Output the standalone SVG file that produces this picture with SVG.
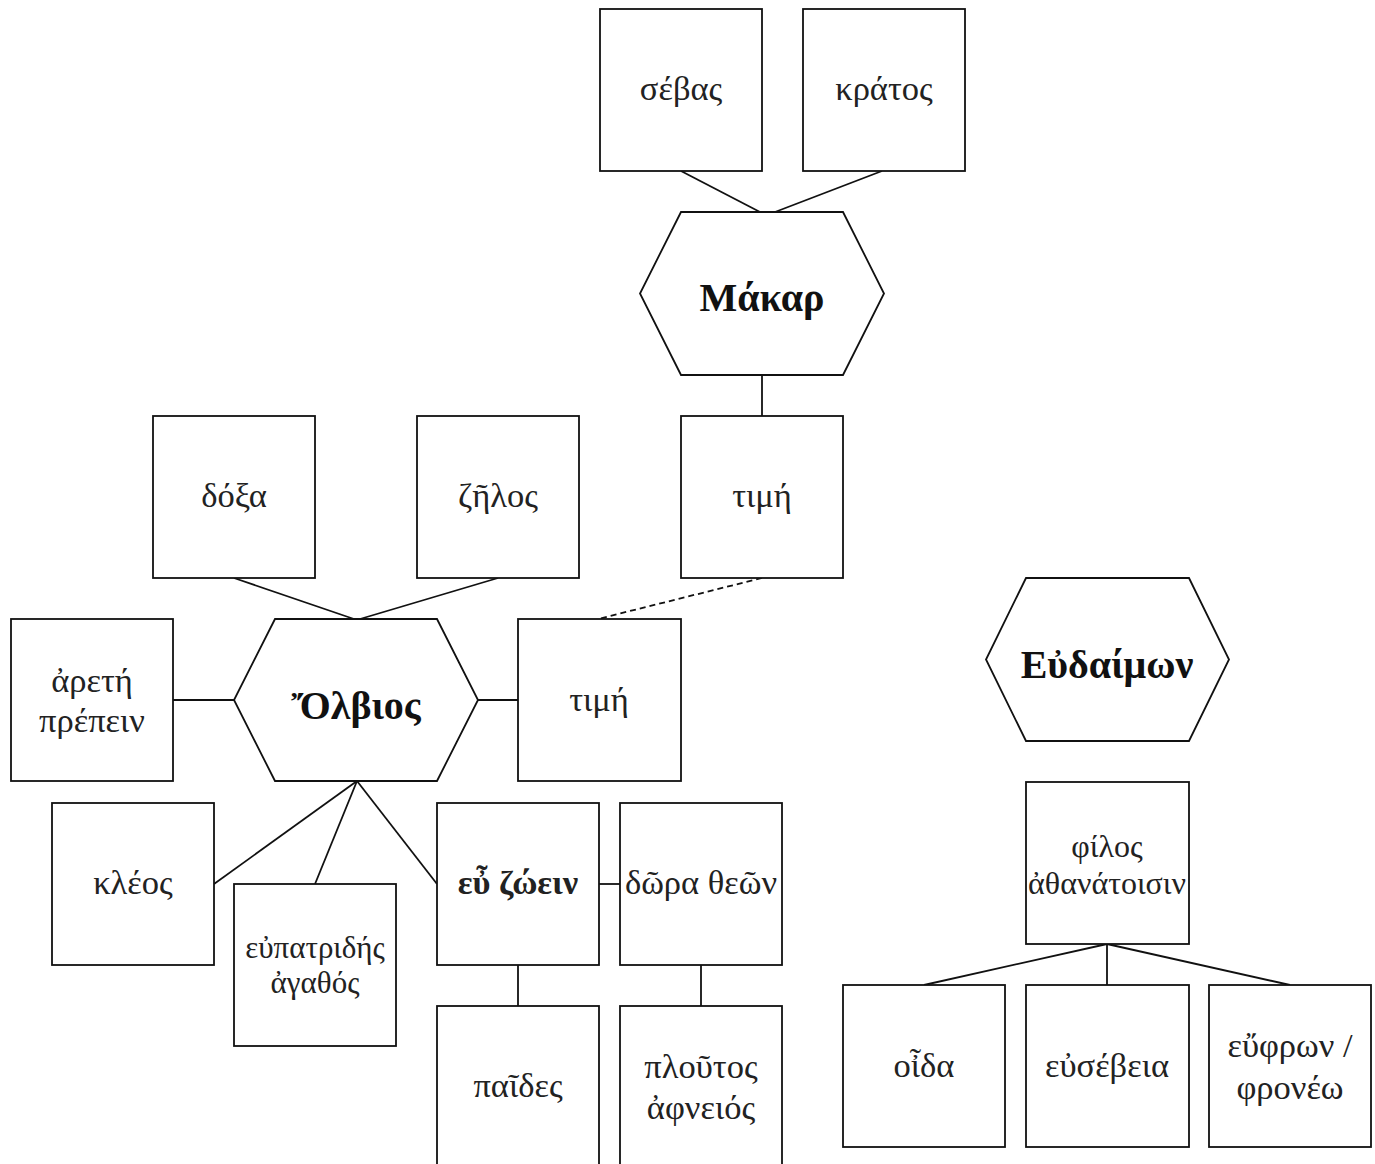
<svg xmlns="http://www.w3.org/2000/svg" width="1375" height="1164" viewBox="0 0 1375 1164">
  <style>
    .box { fill: #fff; stroke: #111; stroke-width: 1.8; }
    .hex { fill: #fff; stroke: #111; stroke-width: 1.8; }
    .edge { fill: none; stroke: #111; stroke-width: 1.8; }
    .dash { stroke-dasharray: 6 4; }
    .t { font-family: "Liberation Serif", "DejaVu Serif", serif; font-size: 34.5px; fill: #222; text-anchor: middle; }
    .s { font-size: 32px; }
    .m { font-size: 31px; }
    .h { font-family: "Liberation Serif", "DejaVu Serif", serif; font-size: 40px; font-weight: bold; fill: #111; text-anchor: middle; }
  </style>
  <rect width="1375" height="1164" fill="#fff"/>

  <g id="connectors">
    <line class="edge" x1="681" y1="171" x2="760" y2="212"/>
    <line class="edge" x1="882" y1="171" x2="775" y2="212"/>
    <line class="edge" x1="762" y1="375" x2="762" y2="416"/>
    <line class="edge dash" x1="762" y1="578" x2="598" y2="619"/>
    <line class="edge" x1="234" y1="578" x2="354" y2="619"/>
    <line class="edge" x1="498" y1="578" x2="360" y2="619"/>
    <line class="edge" x1="173" y1="700" x2="234" y2="700"/>
    <line class="edge" x1="478" y1="700" x2="518" y2="700"/>
    <line class="edge" x1="357" y1="781" x2="214" y2="884"/>
    <line class="edge" x1="357" y1="781" x2="315" y2="884"/>
    <line class="edge" x1="357" y1="781" x2="437" y2="884"/>
    <line class="edge" x1="599" y1="884" x2="620" y2="884"/>
    <line class="edge" x1="518" y1="965" x2="518" y2="1006"/>
    <line class="edge" x1="701" y1="965" x2="701" y2="1006"/>
    <line class="edge" x1="1107" y1="944" x2="924" y2="985"/>
    <line class="edge" x1="1107" y1="944" x2="1107" y2="985"/>
    <line class="edge" x1="1107" y1="944" x2="1290" y2="985"/>
  </g>

  <!-- Μάκαρ cluster -->
  <g id="sevas"><rect class="box" x="600" y="9" width="162" height="162"/><text class="t" x="681" y="100">σέβας</text></g>
  <g id="kratos"><rect class="box" x="803" y="9" width="162" height="162"/><text class="t" x="884" y="100">κράτος</text></g>
  <g id="makar"><polygon class="hex" points="681,212 843,212 884,293.5 843,375 681,375 640,293.5"/><text class="h" x="762" y="311">Μάκαρ</text></g>
  <g id="time-upper"><rect class="box" x="681" y="416" width="162" height="162"/><text class="t" x="762" y="507">τιμή</text></g>

  <!-- Ὄλβιος cluster -->
  <g id="doxa"><rect class="box" x="153" y="416" width="162" height="162"/><text class="t" x="234" y="507">δόξα</text></g>
  <g id="zelos"><rect class="box" x="417" y="416" width="162" height="162"/><text class="t" x="498" y="507">ζῆλος</text></g>
  <g id="arete"><rect class="box" x="11" y="619" width="162" height="162"/><text class="t" x="92" y="692">ἀρετή</text><text class="t" x="92" y="732">πρέπειν</text></g>
  <g id="olbios"><polygon class="hex" points="275,619 437,619 478,700 437,781 275,781 234,700"/><text class="h" x="356" y="719">Ὄλβιος</text></g>
  <g id="time-lower"><rect class="box" x="518" y="619" width="163" height="162"/><text class="t" x="599" y="711">τιμή</text></g>
  <g id="kleos"><rect class="box" x="52" y="803" width="162" height="162"/><text class="t" x="133" y="894">κλέος</text></g>
  <g id="eupatrides"><rect class="box" x="234" y="884" width="162" height="162"/><text class="t m" x="315" y="958">εὐπατριδής</text><text class="t m" x="315" y="993">ἀγαθός</text></g>
  <g id="eu-zoein"><rect class="box" x="437" y="803" width="162" height="162"/><text class="t" x="518" y="894" font-weight="bold">εὖ ζώειν</text></g>
  <g id="dora-theon"><rect class="box" x="620" y="803" width="162" height="162"/><text class="t" x="701" y="894">δῶρα θεῶν</text></g>
  <g id="paides"><rect class="box" x="437" y="1006" width="162" height="162"/><text class="t" x="518" y="1097">παῖδες</text></g>
  <g id="ploutos"><rect class="box" x="620" y="1006" width="162" height="162"/><text class="t" x="701" y="1078">πλοῦτος</text><text class="t" x="701" y="1119">ἀφνειός</text></g>

  <!-- Εὐδαίμων cluster -->
  <g id="eudaimon"><polygon class="hex" points="1026,578 1189,578 1229,659.5 1189,741 1026,741 986,659.5"/><text class="h" x="1107" y="678">Εὐδαίμων</text></g>
  <g id="philos"><rect class="box" x="1026" y="782" width="163" height="162"/><text class="t s" x="1107" y="857">φίλος</text><text class="t s" x="1107" y="894">ἀθανάτοισιν</text></g>
  <g id="oida"><rect class="box" x="843" y="985" width="162" height="162"/><text class="t" x="924" y="1077">οἶδα</text></g>
  <g id="eusebeia"><rect class="box" x="1026" y="985" width="163" height="162"/><text class="t" x="1107" y="1077">εὐσέβεια</text></g>
  <g id="euphron"><rect class="box" x="1209" y="985" width="162" height="162"/><text class="t" x="1290" y="1057">εὔφρων /</text><text class="t" x="1290" y="1099">φρονέω</text></g>
</svg>
